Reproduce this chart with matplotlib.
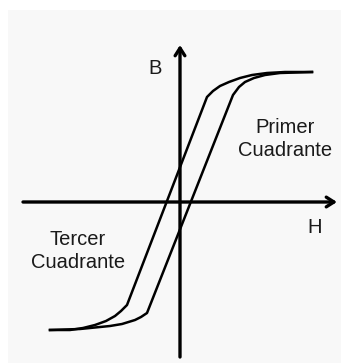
"""Hysteresis loop sketch (B vs H) with quadrant labels."""
import matplotlib

matplotlib.use("Agg")
import matplotlib.pyplot as plt
from matplotlib.patches import Rectangle

# descending branch: from +saturation down to -saturation
down_H = [13.2, 10.5, 8.7, 7.2, 6.0, 4.9, 4.0, 3.3, 2.7, -5.3, -5.9, -6.5, -7.4, -8.5, -9.7, -11.0, -13.0]
down_B = [13.0, 13.0, 12.9, 12.7, 12.4, 12.0, 11.6, 11.1, 10.5, -10.3, -10.9, -11.4, -11.9, -12.3, -12.6, -12.8, -12.8]
# ascending branch: from -saturation back up to +saturation
up_H = [-13.0, -10.0, -7.0, -5.8, -4.5, -3.9, -3.3, 5.3, 5.9, 6.5, 7.4, 8.5, 10.0, 13.2]
up_B = [-12.8, -12.7, -12.4, -12.2, -11.8, -11.5, -11.1, 10.7, 11.5, 12.0, 12.4, 12.7, 12.9, 13.0]

fig = plt.figure(figsize=(3.41, 3.63), dpi=100)
fig.patches.append(Rectangle((8 / 341, 0), 1, 1 - 10 / 363, transform=fig.transFigure,
                             facecolor="#f8f8f8", edgecolor="none", zorder=-10))
ax = fig.add_axes([0, 0, 1, 1])
ax.set_facecolor("none")
ax.set_xlim(-18.0, 16.1)
ax.set_ylim(-16.1, 20.2)
ax.axis("off")

# axes with open arrow heads
arrow = dict(arrowstyle="->,head_length=0.55,head_width=0.35", lw=2.4, color="black",
             shrinkA=0, shrinkB=0)
ax.annotate("", xy=(15.7, 0), xytext=(-15.7, 0), arrowprops=arrow)
ax.annotate("", xy=(0, 15.7), xytext=(0, -15.5), arrowprops=arrow)

ax.plot(down_H, down_B, color="black", lw=1.8, solid_joinstyle="round")
ax.plot(up_H, up_B, color="black", lw=1.8, solid_joinstyle="round")

font = dict(family="Liberation Sans", color="#1a1a1a", fontsize=14.5)
ax.text(-2.5, 13.4, "B", ha="center", va="center", **font)
ax.text(13.5, -2.6, "H", ha="center", va="center", **font)
ax.text(10.5, 6.3, "Primer\nCuadrante", ha="center", va="center", linespacing=1.3, **font)
ax.text(-10.2, -4.9, "Tercer\nCuadrante", ha="center", va="center", linespacing=1.3, **font)

fig.savefig("out.png", dpi=100)
plt.close(fig)
